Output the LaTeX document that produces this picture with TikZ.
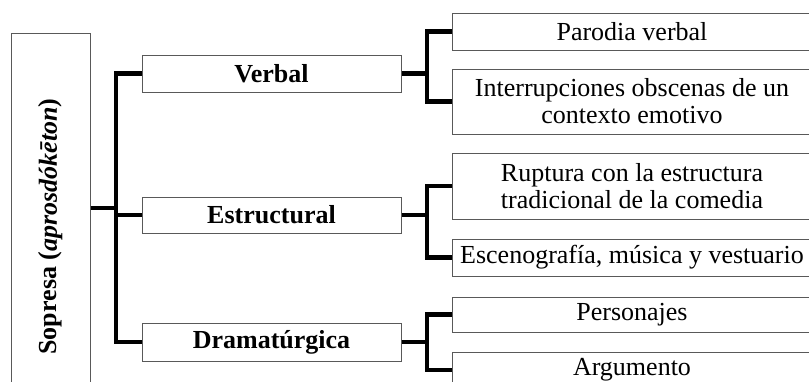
\documentclass[tikz,border=0pt]{standalone}
\usepackage{fontspec}
\setmainfont{Liberation Serif}
\begin{document}
\begin{tikzpicture}[x=1pt,y=-1pt,
  boxline/.style={draw=black!65, line width=1pt, inner sep=0pt, align=center,
    font=\fontsize{26}{27}\selectfont},
  midbox/.style={boxline, minimum width=259pt, minimum height=37pt, font=\fontsize{26}{27}\selectfont\bfseries},
  rbox/.style={boxline, minimum width=360pt},
  conn/.style={line width=4.3pt, line cap=rect, line join=miter}]
\useasboundingbox (0,0) rectangle (809,381);
\clip (0,0) rectangle (809,381);
% left root box
\node[boxline, rotate=90, minimum width=387pt, minimum height=79pt, font=\fontsize{26}{27}\selectfont\bfseries]
  (root) at (50.5,226.5) {Sopresa (\textit{aprosdókēton})};
% middle boxes
\node[midbox] (verbal) at (271.5,73.5) {Verbal};
\node[midbox, minimum height=36pt] (estr) at (271.5,215) {Estructural};
\node[midbox, minimum height=38pt] (dram) at (271.5,342) {Dramatúrgica};
% right boxes
\node[rbox, minimum height=37pt] (parodia) at (632,31.5) {Parodia verbal};
\node[rbox, minimum height=65pt] (interr) at (632,101.5) {Interrupciones obscenas de un\\contexto emotivo};
\node[rbox, minimum height=66pt] (ruptura) at (632,186) {Ruptura con la estructura\\tradicional de la comedia};
\node[rbox, minimum height=37pt] (escen) at (632,257.5) {Escenografía, música y vestuario};
\node[rbox, minimum height=35pt] (perso) at (632,314.5) {Personajes};
\node[rbox, minimum height=36pt] (argu) at (632,370) {Argumento};
% junction coordinates
\coordinate (trunk) at (116,208);
\coordinate (bx) at (427,0);
% left trunk
\draw[conn, line cap=butt] (root.south |- trunk) -- (trunk);
\draw[conn, line cap=butt] (verbal.west) -- (verbal.west -| trunk) -- (dram.west -| trunk) -- (dram.west);
\draw[conn, line cap=butt] (estr.west) -- (estr.west -| trunk);
% right brackets
\draw[conn, line cap=butt] (verbal.east) -- (verbal.east -| bx);
\draw[conn, line cap=butt] (parodia.west) -- (parodia.west -| bx) -- (interr.west -| bx) -- (interr.west);
\draw[conn, line cap=butt] (estr.east) -- (estr.east -| bx);
\draw[conn, line cap=butt] (ruptura.west) -- (ruptura.west -| bx) -- (escen.west -| bx) -- (escen.west);
\draw[conn, line cap=butt] (dram.east) -- (dram.east -| bx);
\draw[conn, line cap=butt] (perso.west) -- (perso.west -| bx) -- (argu.west -| bx) -- (argu.west);
\end{tikzpicture}
\end{document}
